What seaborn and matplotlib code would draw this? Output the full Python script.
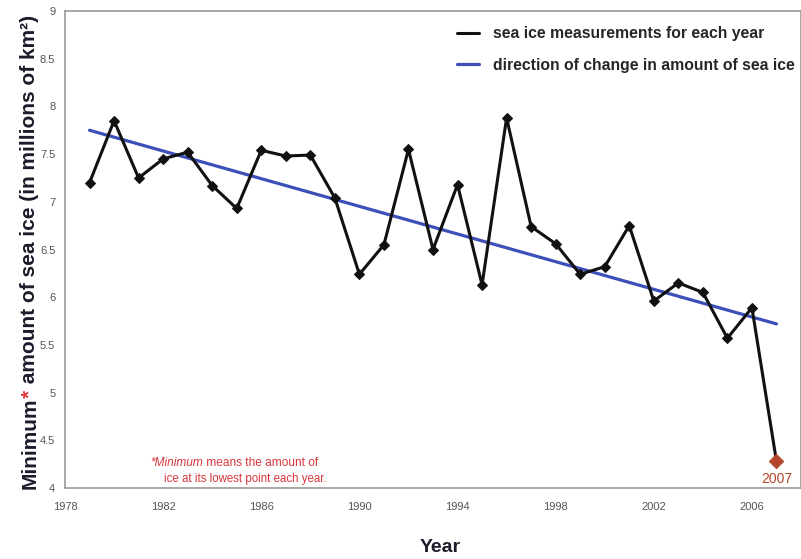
import matplotlib
matplotlib.use('Agg')
import matplotlib.pyplot as plt
from matplotlib.lines import Line2D
import seaborn as sns
import pandas as pd

# --- data ---
years = list(range(1979, 2008))
min_extent = [7.20, 7.85, 7.25, 7.45, 7.52, 7.17, 6.93, 7.54, 7.48, 7.49,
              7.04, 6.24, 6.55, 7.55, 6.50, 7.18, 6.13, 7.88, 6.74, 6.56,
              6.24, 6.32, 6.75, 5.96, 6.15, 6.05, 5.57, 5.89, 4.28]
trend_years = [1979, 2007]
trend_values = [7.75, 5.72]
x_ticks = [1978, 1982, 1986, 1990, 1994, 1998, 2002, 2006]
y_ticks = [4, 4.5, 5, 5.5, 6, 6.5, 7, 7.5, 8, 8.5, 9]
y_tick_labels = ['4', '4.5', '5', '5.5', '6', '6.5', '7', '7.5', '8', '8.5', '9']

df = pd.DataFrame({'year': years, 'extent': min_extent})
trend_df = pd.DataFrame({'year': trend_years, 'extent': trend_values})

sns.set_style('white')
plt.rcParams['font.family'] = ['Liberation Sans', 'DejaVu Sans']

black = '#111111'
blue = '#3d50b8'
brown = '#b4472b'
red = '#d9363c'
title_col = '#1b1b2b'

fig = plt.figure(figsize=(8.01, 5.59), dpi=100)
ax = fig.add_axes([65 / 801, 1 - 488 / 559, 736 / 801, 477 / 559])

# trend line
sns.lineplot(data=trend_df, x='year', y='extent', ax=ax, color=blue,
             linewidth=2.3, zorder=2)
# yearly measurements
sns.lineplot(data=df, x='year', y='extent', ax=ax, color=black,
             linewidth=2.2, marker='D', markersize=5.5,
             markeredgecolor=black, zorder=3)
# 2007 highlighted
last = df.tail(1)
sns.scatterplot(data=last, x='year', y='extent', ax=ax, color=brown,
                marker='D', s=55, edgecolor=brown, zorder=4)
ax.annotate('2007', (last['year'].iloc[0], last['extent'].iloc[0]),
            xytext=(0, -8), textcoords='offset points', ha='center', va='top',
            color=brown, fontsize=10)

ax.set_xlim(1978, 2008)
ax.set_ylim(4, 9)
ax.set_xticks(x_ticks)
ax.set_xticklabels([str(y) for y in x_ticks], fontsize=8, color='#555555')
ax.set_yticks(y_ticks)
ax.set_yticklabels(y_tick_labels, fontsize=8, color='#555555')
ax.tick_params(axis='both', direction='out', length=4, width=0.8,
               color='#999999', pad=3)
ax.tick_params(axis='x', pad=6)
for s in ax.spines.values():
    s.set_color('#9a9a9a')
    s.set_linewidth(1.2)
ax.set_xlabel('')
ax.set_ylabel('')

# axis titles
fig.text(440 / 801, 1 - 548 / 559, 'Year', ha='center', va='center',
         fontsize=14, fontweight='bold', color=title_col)
ylab_size = 15
t1 = fig.text(30 / 801, 1 - 489 / 559, 'Minimum', rotation=90, ha='center',
              va='bottom', fontsize=ylab_size, fontweight='bold', color=title_col)
t2 = ax.annotate('*', xy=(0.5, 1), xycoords=t1, ha='center', va='bottom',
                 rotation=90, fontsize=ylab_size, fontweight='bold', color=red,
                 annotation_clip=False)
ax.annotate(' amount of sea ice (in millions of km²)', xy=(0.5, 1), xycoords=t2,
            ha='center', va='bottom', rotation=90, fontsize=ylab_size,
            fontweight='bold', color=title_col, annotation_clip=False)

# footnote
n1 = ax.text(150 / 801, 1 - 469 / 559, '*Minimum', transform=fig.transFigure,
             ha='left', va='bottom', fontsize=8.6, style='italic', color=red)
ax.annotate(' means the amount of', xy=(1, 0), xycoords=n1, ha='left',
            va='bottom', fontsize=8.6, color=red, annotation_clip=False)
fig.text(164 / 801, 1 - 485 / 559, 'ice at its lowest point each year.',
         ha='left', va='bottom', fontsize=8.3, color=red)

# legend
handles = [Line2D([0], [0], color=black, linewidth=2.2),
           Line2D([0], [0], color=blue, linewidth=2.3)]
labels = ['sea ice measurements for each year',
          'direction of change in amount of sea ice']
ax.legend(handles, labels, loc='upper left',
          bbox_to_anchor=(443 / 801, 1 - 12 / 559),
          bbox_transform=fig.transFigure, frameon=False, handlelength=1.4,
          handletextpad=0.9, labelspacing=1.05,
          prop={'weight': 'bold', 'size': 11.3})

fig.savefig('out.png', dpi=100)
